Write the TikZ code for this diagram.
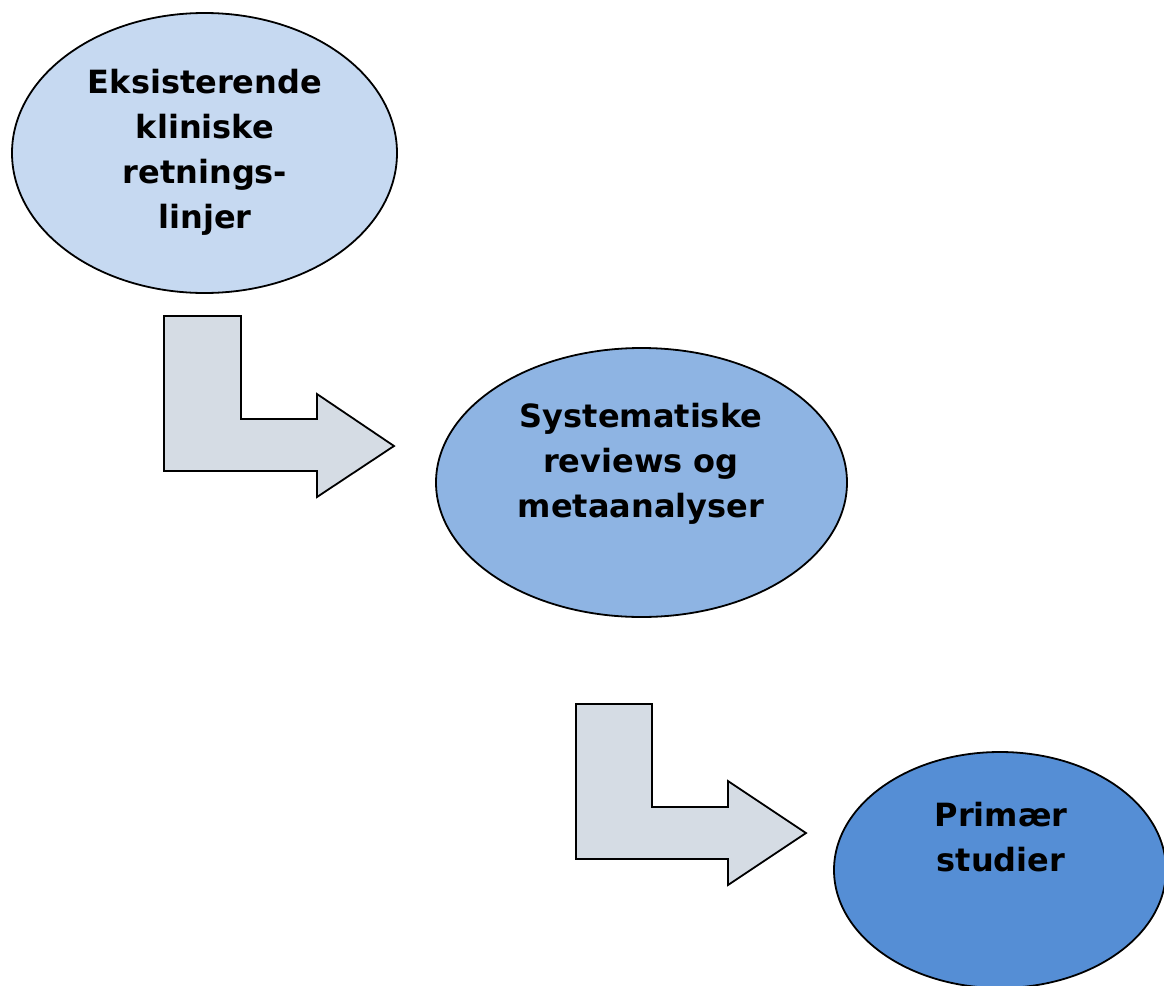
\documentclass[tikz,border=0pt]{standalone}
\usepackage{fontspec}
\setmainfont{DejaVu Sans}
\usetikzlibrary{shapes.geometric}
\definecolor{eone}{HTML}{C6D9F1}
\definecolor{etwo}{HTML}{8EB4E3}
\definecolor{ethree}{HTML}{558ED5}
\definecolor{arrfill}{HTML}{D5DCE4}
\tikzset{
  blob/.style={ellipse, draw=black, line width=1.8pt, inner sep=0pt},
  lbl/.style={align=center, inner sep=0pt, anchor=base, font=\bfseries\fontsize{32}{45}\selectfont},
  bentarrow/.style={draw=black, fill=arrfill, line width=1.8pt, line join=miter}
}
\begin{document}
\begin{tikzpicture}[x=1pt,y=-1pt]
\useasboundingbox (0,0) rectangle (1164,985);
\node[blob, fill=eone, minimum width=385pt, minimum height=280pt] (e1) at (204.5,153) {};
\node[blob, fill=etwo, minimum width=411pt, minimum height=269pt] (e2) at (641.5,482.5) {};
\node[blob, fill=ethree, minimum width=332pt, minimum height=236pt] (e3) at (1000,870) {};
\node[lbl] (t1) at (205,228) {Eksisterende\\kliniske\\retnings-\\linjer};
\node[lbl] (t2) at (641,517) {Systematiske\\reviews og\\metaanalyser};
\node[lbl] (t3) at (1001,871) {Primær\\studier};
\draw[bentarrow] (164,316) -- (241,316) -- (241,419) -- (317,419) -- (317,394) -- (394,446) -- (317,497) -- (317,471) -- (164,471) -- cycle;
\draw[bentarrow] (576,704) -- (652,704) -- (652,807) -- (728,807) -- (728,781) -- (806,833) -- (728,885) -- (728,859) -- (576,859) -- cycle;
\end{tikzpicture}
\end{document}
